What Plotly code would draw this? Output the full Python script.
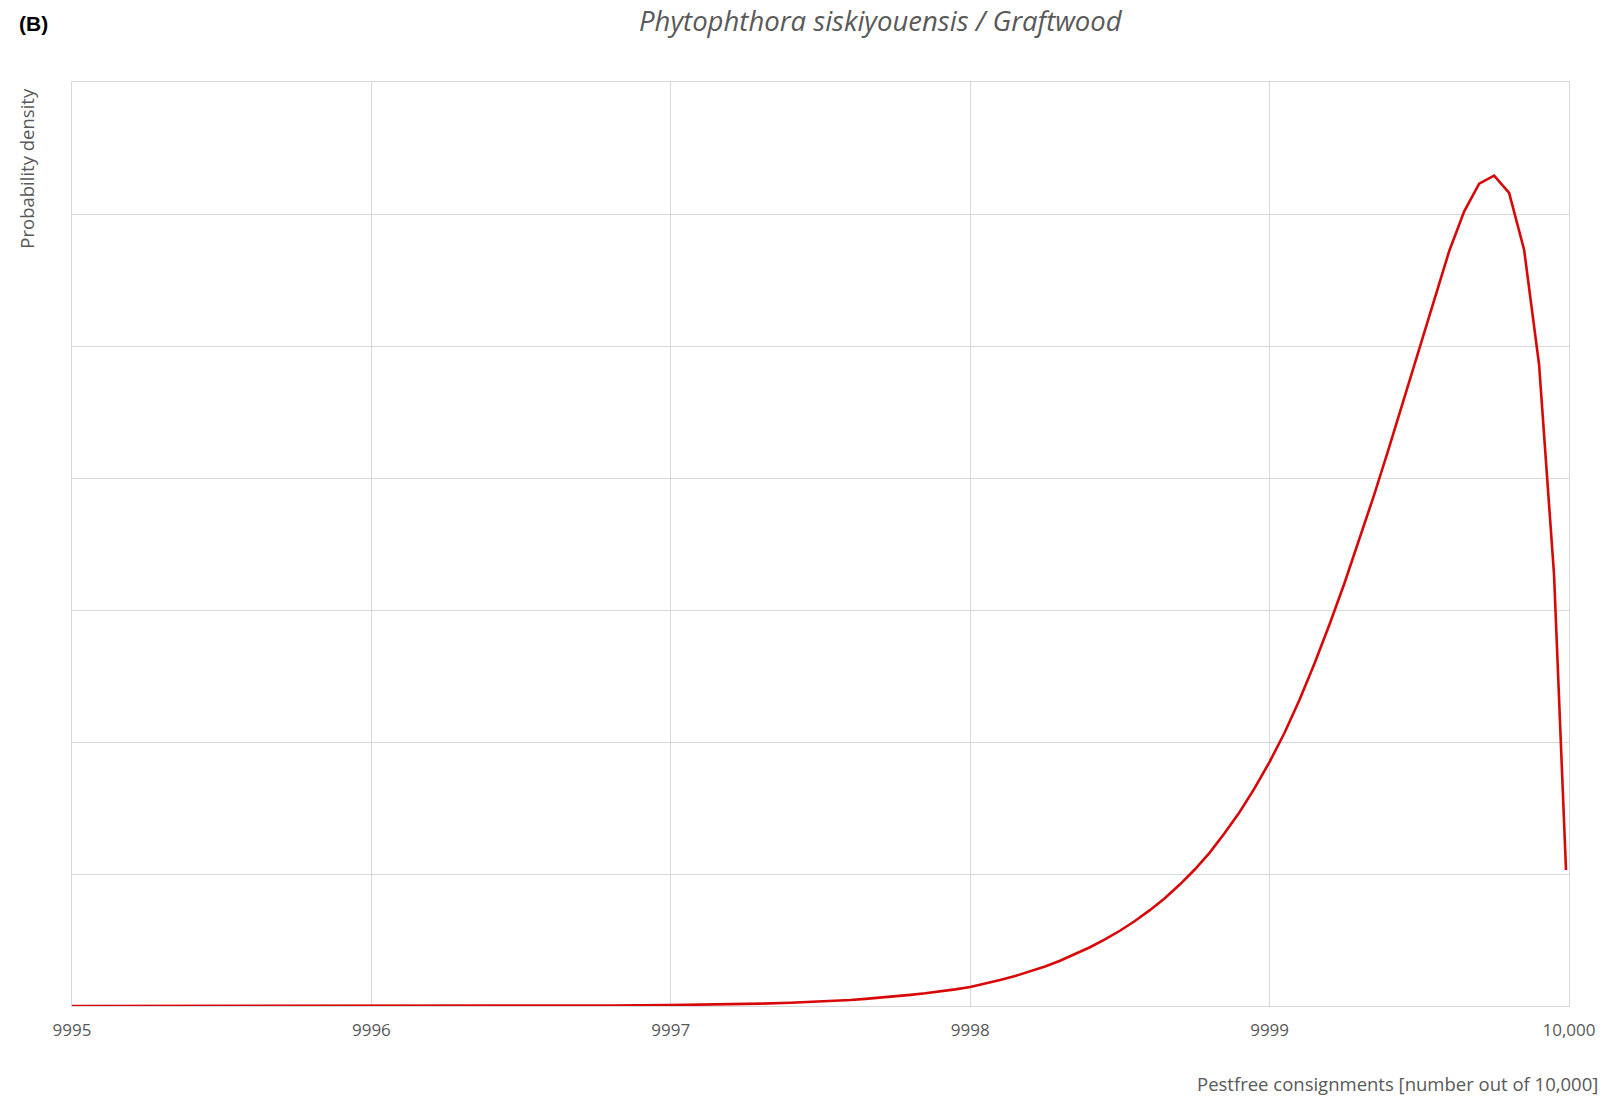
import plotly.graph_objects as go

# Data (y in arbitrary density units; gridlines every 1 unit)
pestfree = [
    9995.0, 9995.5, 9996.0, 9996.2, 9996.4, 9996.6, 9996.8, 9997.0, 9997.1, 9997.2,
    9997.3, 9997.4, 9997.5, 9997.55, 9997.6, 9997.65, 9997.7, 9997.75, 9997.8, 9997.85,
    9997.9, 9997.95, 9998.0, 9998.05, 9998.1, 9998.15, 9998.2, 9998.25, 9998.3, 9998.35,
    9998.4, 9998.45, 9998.5, 9998.55, 9998.6, 9998.65, 9998.7, 9998.75, 9998.8, 9998.85,
    9998.9, 9998.95, 9999.0, 9999.05, 9999.1, 9999.15, 9999.2, 9999.25, 9999.3, 9999.35,
    9999.4, 9999.45, 9999.5, 9999.55, 9999.6, 9999.65, 9999.7, 9999.75, 9999.8, 9999.85,
    9999.9, 9999.95, 9999.99,
]
density = [
    0.0, 0.0001, 0.0003, 0.0005, 0.001, 0.002, 0.0035, 0.0065, 0.009, 0.013,
    0.018, 0.025, 0.034, 0.040, 0.046, 0.054, 0.063, 0.073, 0.084, 0.096,
    0.110, 0.126, 0.144, 0.169, 0.197, 0.227, 0.262, 0.300, 0.343, 0.391,
    0.445, 0.504, 0.570, 0.644, 0.726, 0.817, 0.920, 1.034, 1.162, 1.310,
    1.470, 1.650, 1.850, 2.070, 2.320, 2.595, 2.890, 3.203, 3.533, 3.878,
    4.238, 4.610, 4.990, 5.365, 5.720, 6.020, 6.230, 6.290, 6.160, 5.730,
    4.860, 3.270, 1.030,
]

x_tickvals = [9995, 9996, 9997, 9998, 9999, 10000]
x_ticktext = ["9995", "9996", "9997", "9998", "9999", "10,000"]
y_gridvals = [0, 1, 2, 3, 4, 5, 6, 7]

title_text = "Phytophthora siskiyouensis / Graftwood"
panel_label = "(B)"
x_title = "Pestfree consignments [number out of 10,000]"
y_title = "Probability density"

W, H = 1608, 1098
L, R, T, B = 72, 34, 82, 92
grid = "#d9d9d9"
txt = "#595959"
font = "Open Sans"

fig = go.Figure()
fig.add_trace(go.Scatter(
    x=pestfree, y=density, mode="lines",
    line=dict(color="#d80808", width=2.6),
    showlegend=False, hoverinfo="skip",
))

fig.update_layout(
    width=W, height=H,
    margin=dict(l=L, r=R, t=T, b=B, pad=0),
    paper_bgcolor="white", plot_bgcolor="white",
    font=dict(family=font, color=txt),
)
fig.update_xaxes(
    range=[9995, 10000], tickvals=x_tickvals, ticktext=x_ticktext,
    showgrid=True, gridcolor=grid, gridwidth=1,
    showline=True, linecolor=grid, linewidth=1, mirror=True,
    zeroline=False, ticks="", ticklabelstandoff=9,
    tickfont=dict(family=font, size=17, color=txt),
)
fig.update_yaxes(
    range=[0, 7], tickvals=y_gridvals, showticklabels=False,
    showgrid=True, gridcolor=grid, gridwidth=1,
    showline=True, linecolor=grid, linewidth=1, mirror=True,
    zeroline=False, ticks="",
)

def px_x(px):
    return (px - L) / (W - L - R)

def px_y(py):
    return (H - B - py) / (H - T - B)

fig.add_annotation(
    text="<i>" + title_text + "</i>", x=px_x(884), y=px_y(21),
    xref="paper", yref="paper", xanchor="center", yanchor="middle",
    showarrow=False, font=dict(family=font, size=27.5, color=txt),
)
fig.add_annotation(
    text="<b>" + panel_label + "</b>", x=px_x(17), y=px_y(23),
    xref="paper", yref="paper", xanchor="left", yanchor="middle",
    showarrow=False, font=dict(family="Liberation Sans", size=21, color="black"),
)
fig.add_annotation(
    text=x_title, x=px_x(1605), y=px_y(1083),
    xref="paper", yref="paper", xanchor="right", yanchor="middle",
    showarrow=False, font=dict(family=font, size=18.5, color=txt),
)
fig.add_annotation(
    text=y_title, x=px_x(26), y=px_y(86), textangle=-90,
    xref="paper", yref="paper", xanchor="center", yanchor="top",
    showarrow=False, font=dict(family=font, size=18.5, color=txt),
)

fig.write_html(
    "out.html",
    config={"displayModeBar": False},
    post_script="document.body.style.margin='0';",
)
